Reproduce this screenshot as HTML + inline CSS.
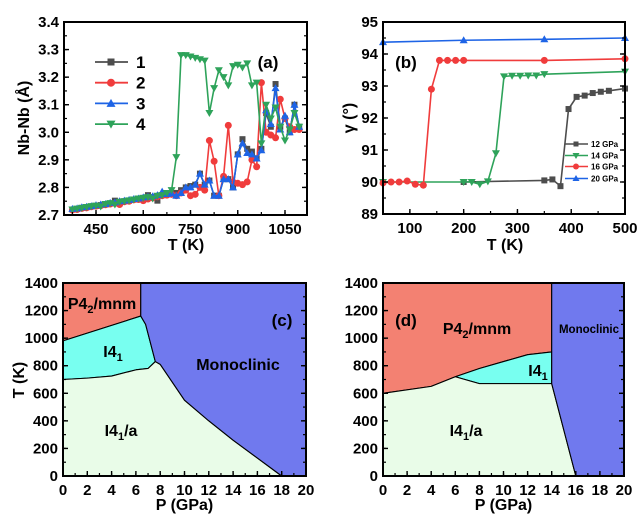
<!DOCTYPE html>
<html><head><meta charset="utf-8">
<style>
body{margin:0;background:#fff;}
svg{display:block;font-family:"Liberation Sans",Arial,sans-serif;font-weight:bold;}
</style></head>
<body>
<svg id="fig" width="642" height="520" viewBox="0 0 642 520" xmlns="http://www.w3.org/2000/svg"></svg>
<script>
// ---- Panel (a) data ----
const aTemps = [375,390,405,420,435,450,465,480,495,510,525,540,555,570,585,600,615,630,645,660,675,690,705,720,735,750,765,780,795,810,825,840,855,870,885,900,915,930,945,960,975,990,1005,1020,1035,1050,1065,1080,1095];
const aS1 = [2.72,2.722,2.726,2.728,2.731,2.733,2.736,2.738,2.742,2.752,2.746,2.75,2.752,2.756,2.758,2.762,2.772,2.765,2.752,2.772,2.775,2.778,2.78,2.79,2.80,2.805,2.81,2.85,2.81,2.825,2.77,2.77,2.83,2.83,2.80,2.92,2.975,2.94,2.93,2.905,2.94,3.07,3.02,3.175,3.02,3.05,3.0,3.1,3.02];
const aS2 = [2.718,2.72,2.724,2.726,2.73,2.732,2.734,2.737,2.74,2.742,2.738,2.748,2.75,2.755,2.756,2.752,2.758,2.762,2.766,2.77,2.772,2.775,2.77,2.78,2.79,2.77,2.775,2.80,2.79,2.97,2.895,2.77,2.84,3.025,2.82,2.815,2.81,2.82,2.90,2.875,3.18,3.0,2.99,2.98,3.12,3.05,3.02,3.01,3.01];
const aS3 = [2.722,2.724,2.728,2.73,2.732,2.736,2.738,2.74,2.744,2.746,2.75,2.752,2.755,2.758,2.76,2.764,2.766,2.768,2.772,2.785,2.776,2.778,2.77,2.78,2.80,2.80,2.81,2.85,2.81,2.825,2.77,2.77,2.83,2.83,2.80,2.92,2.96,2.925,2.92,2.905,2.935,3.08,3.03,3.16,3.01,3.06,3.0,3.1,3.02];
const aS4 = [2.72,2.723,2.726,2.729,2.732,2.734,2.731,2.74,2.743,2.738,2.748,2.75,2.753,2.756,2.76,2.762,2.765,2.76,2.77,2.772,2.78,2.79,2.91,3.28,3.28,3.275,3.27,3.265,3.26,3.07,3.16,3.225,3.2,3.17,3.24,3.245,3.235,3.25,3.17,3.18,2.96,3.1,3.05,3.09,3.02,2.97,3.01,3.07,3.02];
const aXTicks = [450,600,750,900,1050];
const aYTicks = [2.7,2.8,2.9,3.0,3.1,3.2,3.3,3.4];
// ---- Panel (b) data ----
const b12T = [200,350,365,380,395,410,425,440,455,470,500];
const b12V = [90.0,90.05,90.08,89.87,92.28,92.66,92.7,92.78,92.82,92.85,92.92];
const b14T = [50,200,215,230,245,260,275,290,305,320,335,350,500];
const b14V = [90.0,90.0,90.0,89.93,90.02,90.9,93.3,93.32,93.32,93.33,93.33,93.37,93.45];
const b16T = [50,65,80,95,110,125,140,155,170,185,200,350,500];
const b16V = [89.97,90.0,90.0,90.03,89.93,89.9,92.9,93.8,93.8,93.8,93.8,93.8,93.85];
const b20T = [50,200,350,500];
const b20V = [94.37,94.43,94.46,94.5];
const bXTicks = [100,200,300,400,500];
const bYTicks = [89,90,91,92,93,94,95];
// ---- Panel (c) phase boundaries [P,T] ----
const cP42 = [[0,1400],[6.4,1400],[6.4,1160],[0,980]];
const cI41 = [[0,980],[6.4,1160],[6.8,1100],[7.6,830],[7.0,780],[6,770],[4,725],[2,710],[0,700]];
const cI41a = [[0,0],[0,700],[2,710],[4,725],[6,770],[7.0,780],[7.6,830],[8,810],[10,550],[12,400],[14,260],[16,130],[18,0]];
const cMono = [[6.4,1400],[20,1400],[20,0],[18,0],[16,130],[14,260],[12,400],[10,550],[8,810],[7.6,830],[6.8,1100],[6.4,1160]];
// ---- Panel (d) phase boundaries ----
const dP42 = [[0,1400],[14,1400],[14,900],[12,880],[10,830],[8,780],[6,720],[4,650],[0,600]];
const dI41 = [[6,720],[8,780],[10,830],[12,880],[14,900],[14,670],[8,670]];
const dI41a = [[0,0],[0,600],[4,650],[6,720],[8,670],[14,670],[16,0]];
const dMono = [[14,1400],[20,1400],[20,0],[16,0],[14,670]];
const pTicks = [0,2,4,6,8,10,12,14,16,18,20];
const tTicks = [0,200,400,600,800,1000,1200,1400];

const NS = "http://www.w3.org/2000/svg";
const svg = document.getElementById('fig');
function mk(tag, attrs, parent){const e=document.createElementNS(NS,tag);for(const k in attrs)e.setAttribute(k,attrs[k]);(parent||svg).appendChild(e);return e;}
function lin(d0,d1,r0,r1){return v=>r0+(v-d0)*(r1-r0)/(d1-d0);}

function axes(g,x,y,L,R,T,B,xt,yt,xminor,yminor,xfmt,yfmt,xLabelOff){
  // ticks
  const tk=mk('g',{},g);
  
  
  xminor.forEach(v=>{const px=x(v);if(px<L||px>R)return;mk('line',{x1:px,x2:px,y1:B,y2:B-3,stroke:'#000','stroke-width':1.2},tk);});
  yminor.forEach(v=>{const py=y(v);if(py<T||py>B)return;mk('line',{x1:L,x2:L+3,y1:py,y2:py,stroke:'#000','stroke-width':1.2},tk);mk('line',{x1:R,x2:R-3,y1:py,y2:py,stroke:'#000','stroke-width':1.2},tk);});
  xt.forEach(v=>{const px=x(v);mk('line',{x1:px,x2:px,y1:B,y2:B-5,stroke:'#000','stroke-width':1.4},tk);
    const t=mk('text',{x:px,y:B+19,'font-size':15,'text-anchor':'middle'},g);t.textContent=xfmt(v);
    });
  yt.forEach(v=>{const py=y(v);mk('line',{x1:L,x2:L+5,y1:py,y2:py,stroke:'#000','stroke-width':1.4},tk);mk('line',{x1:R,x2:R-5,y1:py,y2:py,stroke:'#000','stroke-width':1.4},tk);
    const t=mk('text',{x:L-5,y:py+5,'font-size':15,'text-anchor':'end'},g);t.textContent=yfmt(v);
    });
  const fr=mk('rect',{x:L,y:T,width:R-L,height:B-T,fill:'none',stroke:'#000','stroke-width':2},g);
  
}
function marker(g,type,px,py,col,s){
  let e;
  if(type==='sq') e=mk('rect',{x:px-s,y:py-s,width:2*s,height:2*s,fill:col},g);
  else if(type==='ci') e=mk('circle',{cx:px,cy:py,r:s+0.5,fill:col},g);
  else if(type==='up') e=mk('polygon',{points:`${px},${py-s-1} ${px-s-1},${py+s} ${px+s+1},${py+s}`,fill:col},g);
  else e=mk('polygon',{points:`${px},${py+s+1} ${px-s-1},${py-s} ${px+s+1},${py-s}`,fill:col},g);
  
  
}
function series(g,xs,ys,x,y,col,type,s,name){
  const sg=mk('g',{},g);
  
  
  mk('polyline',{points:xs.map((v,i)=>x(v)+','+y(ys[i])).join(' '),fill:'none',stroke:col,'stroke-width':1.6},sg);
  xs.forEach((v,i)=>marker(sg,type,x(v),y(ys[i]),col,s));
}
function range(a,b,st){const r=[];for(let v=a;v<=b+1e-9;v+=st)r.push(+v.toFixed(4));return r;}

// ===== Panel (a) =====
{
const g=mk('g',{});
const L=64,R=307,T=22,B=215;
const x=lin(450,1050,96,285), y=lin(2.7,3.4,B,T);
const cols={s1:'#4d4d4d',s2:'#f03c3c',s3:'#1e64e6',s4:'#2ea35a'};
series(g,aTemps,aS1,x,y,cols.s1,'sq',3,'series-1');
series(g,aTemps,aS2,x,y,cols.s2,'ci',3,'series-2');
series(g,aTemps,aS3,x,y,cols.s3,'up',3,'series-3');
series(g,aTemps,aS4,x,y,cols.s4,'dn',3,'series-4');
axes(g,x,y,L,R,T,B,aXTicks,aYTicks,range(375,1125,75),range(2.7,3.4,0.05),v=>String(v),v=>v.toFixed(1));
const leg=[['1',cols.s1,'sq'],['2',cols.s2,'ci'],['3',cols.s3,'up'],['4',cols.s4,'dn']];
leg.forEach((l,i)=>{const yy=62+i*20.7;const lg=mk('g',{},g);
  
  mk('line',{x1:95,x2:128,y1:yy,y2:yy,stroke:l[1],'stroke-width':1.8},lg);marker(lg,l[2],111,yy,l[1],3.5);
  const t=mk('text',{x:136,y:yy+6,'font-size':17},lg);t.textContent=l[0];});
let t=mk('text',{x:268,y:68,'font-size':17,'text-anchor':'middle'},g);t.textContent='(a)';

t=mk('text',{x:186,y:250,'font-size':16,'text-anchor':'middle'},g);t.textContent='T (K)';

t=mk('text',{x:0,y:0,'font-size':16,'text-anchor':'middle',transform:'translate(29,118) rotate(-90)'},g);t.textContent='Nb-Nb (Å)';

}
// ===== Panel (b) =====
{
const g=mk('g',{});
const L=383,R=625,T=22,B=214;
const x=lin(50,500,L,R), y=lin(89,95,B,T);
const c12='#4d4d4d',c14='#2ea35a',c16='#f03c3c',c20='#1e64e6';
series(g,b20T,b20V,x,y,c20,'up',3,'series-20gpa');
series(g,b12T,b12V,x,y,c12,'sq',3,'series-12gpa');
series(g,b14T,b14V,x,y,c14,'dn',3,'series-14gpa');
series(g,b16T,b16V,x,y,c16,'ci',3,'series-16gpa');
axes(g,x,y,L,R,T,B,bXTicks,bYTicks,range(50,500,50),range(89,95,0.5),v=>String(v),v=>String(v));
const leg=[['12 GPa',c12,'sq',144],['14 GPa',c14,'dn',155.5],['16 GPa',c16,'ci',166.5],['20 GPa',c20,'up',178.5]];
leg.forEach(l=>{const lg=mk('g',{},g);
  
  mk('line',{x1:565,x2:588,y1:l[3],y2:l[3],stroke:l[1],'stroke-width':1.5},lg);marker(lg,l[2],576,l[3],l[1],2.5);
  const t=mk('text',{x:591,y:l[3]+3,'font-size':8},lg);t.textContent=l[0];});
let t=mk('text',{x:406,y:68,'font-size':17,'text-anchor':'middle'},g);t.textContent='(b)';

t=mk('text',{x:505,y:250,'font-size':16,'text-anchor':'middle'},g);t.textContent='T (K)';

t=mk('text',{x:0,y:0,'font-size':16,'text-anchor':'middle',transform:'translate(354,118) rotate(-90)'},g);t.textContent='γ (°)';

}
// ===== Phase diagrams =====
function phase(name,L,R,regions,labels,panelLab,showY){
  const g=mk('g',{});
  const T=283,B=476;const x=lin(0,20,L,R), y=lin(0,1400,B,T);
  regions.forEach(r=>{const p=mk('polygon',{points:r[0].map(q=>x(q[0])+','+y(q[1])).join(' '),fill:r[1],stroke:'#000','stroke-width':1.1,'stroke-linejoin':'round'},g);
    });
  axes(g,x,y,L,R,T,B,pTicks,tTicks,range(0,20,1),range(0,1400,100),v=>String(v),v=>String(v));
  labels.forEach(l=>{const t=mk('text',{x:l[0],y:l[1],'font-size':l[3],'text-anchor':'middle'},g);t.innerHTML=l[2];
    });
  let t=mk('text',{x:(L+R)/2,y:510,'font-size':16,'text-anchor':'middle'},g);t.textContent='P (GPa)';
  
  if(showY){t=mk('text',{x:0,y:0,'font-size':16,'text-anchor':'middle',transform:'translate(24,380) rotate(-90)'},g);t.textContent='T (K)';
  }
  t=mk('text',{x:panelLab[0],y:panelLab[1],'font-size':17,'text-anchor':'middle'},g);t.textContent=panelLab[2];
  
}
const RED='#f38172',CY='#78fff0',BL='#7079ee',GR='#e9fce8';
const sub='<tspan font-size="11" dy="4">', esub='</tspan><tspan dy="-4">';
phase('panel-c',63,306,[[cP42,RED,'region-p42mnm'],[cI41,CY,'region-i41'],[cI41a,GR,'region-i41a'],[cMono,BL,'region-monoclinic']],
 [[102,309,'P4'+sub+'2'+esub+'/mnm</tspan>',16],[113,357,'I4'+sub+'1</tspan>',16],[121,436,'I4'+sub+'1'+esub+'/a</tspan>',16],[238,370,'Monoclinic',16]],[282,326,'(c)'],true);
phase('panel-d',383,624,[[dP42,RED,'region-p42mnm'],[dI41,CY,'region-i41'],[dI41a,GR,'region-i41a'],[dMono,BL,'region-monoclinic']],
 [[477,334,'P4'+sub+'2'+esub+'/mnm</tspan>',16],[538,376,'I4'+sub+'1</tspan>',16],[466,436,'I4'+sub+'1'+esub+'/a</tspan>',16],[589,333,'Monoclinic',11.5]],[406,326,'(d)'],false);
</script>
</body></html>
